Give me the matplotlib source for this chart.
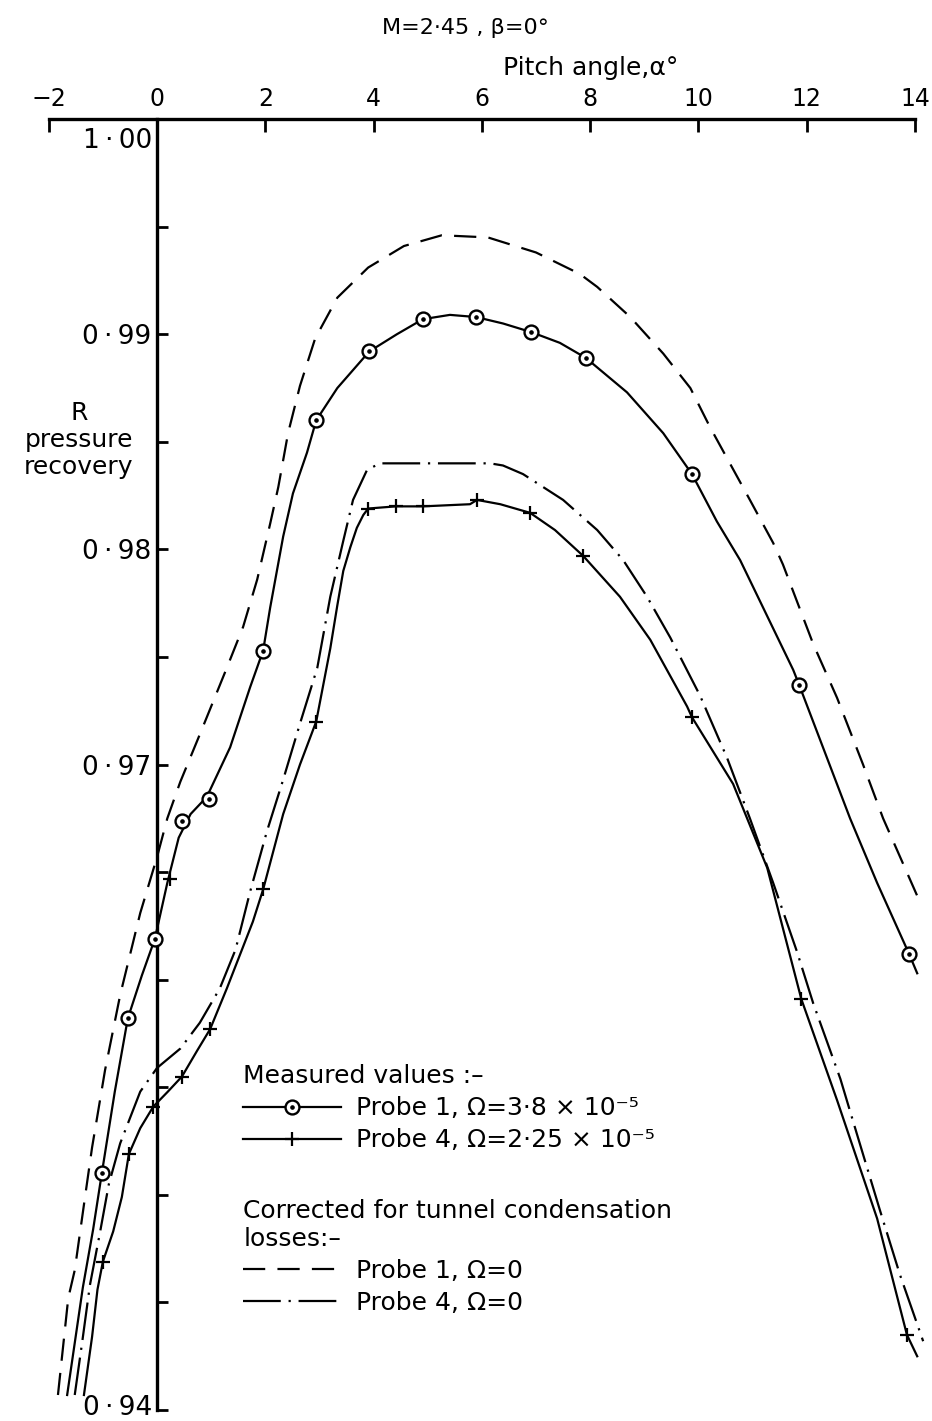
import matplotlib
matplotlib.use('Agg')
import matplotlib.pyplot as plt
from matplotlib.lines import Line2D
from matplotlib.legend_handler import HandlerTuple

plt.rcParams['font.family'] = ['DejaVu Sans']
plt.rcParams['font.size'] = 18

# measured points, probe 1 (circles)
p1_alpha = [-1.02, -0.54, -0.04, 0.46, 0.96, 1.96, 2.94, 3.92, 4.91, 5.89, 6.91, 7.92, 9.88, 11.86, 13.89]
p1_r = [0.9510, 0.9582, 0.9619, 0.9674, 0.9684, 0.9753, 0.9860, 0.9892, 0.9907, 0.9908, 0.9901, 0.9889,
        0.9835, 0.9737, 0.9612]

# measured points, probe 4 (crosses)
p4_alpha = [-1.00, -0.52, -0.07, 0.46, 0.98, 1.96, 2.94, 3.90, 4.41, 4.91, 5.91, 6.89, 7.87, 9.88, 11.90,
            13.85, 0.24]
p4_r = [0.9469, 0.9519, 0.9541, 0.9555, 0.9577, 0.9642, 0.9720, 0.9819, 0.9820, 0.9820, 0.9823, 0.9817,
        0.9797, 0.9722, 0.9591, 0.9435, 0.9647]

# faired curve through probe 1 points
p1_curve_x = [-1.66, -1.37, -1.18, -1.02, -0.78, -0.54, -0.28, -0.04, 0.19, 0.40, 0.62, 0.92, 1.35, 1.72,
              1.96, 2.09, 2.33, 2.51, 2.77, 2.94, 3.33, 3.92, 4.43, 4.91, 5.41, 5.89, 6.39, 6.91, 7.44, 7.92,
              8.68, 9.35, 9.88, 10.34, 10.77, 11.75, 11.86, 12.80, 13.30, 13.89, 14.04]
p1_curve_r = [0.9407, 0.9457, 0.9484, 0.9510, 0.9548, 0.9582, 0.9602, 0.9619, 0.9645, 0.9666, 0.9677,
              0.9685, 0.9708, 0.9736, 0.9753, 0.9773, 0.9806, 0.9826, 0.9845, 0.9860, 0.9875, 0.9892,
              0.9900, 0.9907, 0.9909, 0.9908, 0.9905, 0.9901, 0.9896, 0.9889, 0.9873, 0.9854, 0.9835,
              0.9813, 0.9795, 0.9744, 0.9737, 0.9675, 0.9645, 0.9612, 0.9603]

# faired curve through probe 4 points
p4_curve_x = [-1.35, -1.20, -1.10, -1.00, -0.81, -0.65, -0.52, -0.31, -0.07, 0.20, 0.46, 0.74, 0.98, 1.29,
              1.77, 1.96, 2.33, 2.64, 2.94, 3.20, 3.33, 3.44, 3.57, 3.69, 3.81, 3.90, 4.41, 4.91, 5.78, 5.91,
              6.34, 6.89, 7.35, 7.87, 8.55, 9.11, 9.79, 9.88, 10.64, 11.27, 11.90, 12.56, 13.30, 13.85, 14.04]
p4_curve_r = [0.9407, 0.9434, 0.9456, 0.9469, 0.9483, 0.9499, 0.9519, 0.9531, 0.9541, 0.9548, 0.9555,
              0.9567, 0.9577, 0.9596, 0.9627, 0.9642, 0.9677, 0.9700, 0.9720, 0.9754, 0.9774, 0.9790,
              0.9801, 0.9810, 0.9816, 0.9819, 0.9820, 0.9820, 0.9821, 0.9823, 0.9821, 0.9817, 0.9809,
              0.9797, 0.9778, 0.9758, 0.9727, 0.9722, 0.9691, 0.9652, 0.9591, 0.9544, 0.9489, 0.9435,
              0.9425]

# corrected for tunnel condensation losses, probe 1
p1_corr_x = [-1.83, -1.64, -1.52, -1.33, -1.20, -0.96, -0.68, -0.31, 0.00, 0.19, 0.43, 0.79, 1.29, 1.59,
             1.85, 2.09, 2.24, 2.42, 2.64, 2.92, 3.33, 3.90, 4.56, 5.26, 6.11, 7.00, 7.81, 8.13, 8.74,
             9.35, 9.85, 10.21, 10.58, 10.95, 11.38, 11.56, 12.12, 12.56, 13.04, 13.41, 14.04]
p1_corr_r = [0.9407, 0.9452, 0.9465, 0.9499, 0.9522, 0.9558, 0.9593, 0.9631, 0.9657, 0.9675, 0.9692,
             0.9714, 0.9745, 0.9764, 0.9786, 0.9812, 0.9829, 0.9854, 0.9876, 0.9898, 0.9917, 0.9931,
             0.9941, 0.9946, 0.9945, 0.9938, 0.9928, 0.9922, 0.9908, 0.9891, 0.9875, 0.9857, 0.9840,
             0.9823, 0.9803, 0.9793, 0.9756, 0.9731, 0.9700, 0.9675, 0.9639]

# corrected for tunnel condensation losses, probe 4
p4_corr_x = [-1.52, -1.38, -1.24, -1.05, -0.89, -0.68, -0.31, 0.00, 0.43, 0.79, 1.16, 1.45, 1.72, 2.03,
             2.33, 2.64, 2.96, 3.20, 3.44, 3.62, 3.88, 4.12, 5.04, 6.15, 6.39, 6.76, 7.13, 7.50, 8.13, 8.61,
             9.05, 9.48, 10.03, 10.53, 10.95, 11.38, 11.82, 12.12, 12.62, 12.93, 13.35, 13.72, 14.15]
p4_corr_r = [0.9407, 0.9432, 0.9458, 0.9483, 0.9505, 0.9524, 0.9548, 0.9559, 0.9568, 0.9580, 0.9596,
             0.9614, 0.9641, 0.9669, 0.9693, 0.9719, 0.9745, 0.9778, 0.9804, 0.9823, 0.9837, 0.9840,
             0.9840, 0.9840, 0.9839, 0.9835, 0.9829, 0.9823, 0.9809, 0.9795, 0.9778, 0.9759, 0.9732,
             0.9703, 0.9675, 0.9645, 0.9613, 0.9589, 0.9554, 0.9528, 0.9493, 0.9463, 0.9432]

x_ticks = [-2, 0, 2, 4, 6, 8, 10, 12, 14]
x_labels = ['\u22122', '0', '2', '4', '6', '8', '10', '12', '14']
y_ticks = [0.94, 0.95, 0.96, 0.97, 0.98, 0.99]
y_labels = ['', '', '', '0\u2009\u00b7\u200997', '0\u2009\u00b7\u200998', '0\u2009\u00b7\u200999']
y_minor = [0.945, 0.955, 0.965, 0.975, 0.985, 0.995]

lw = 1.6
dashed = (0, (10, 5.5))
dashdot = (0, (17, 3.5, 1, 3.5))

fig = plt.figure(figsize=(9.32, 14.21), dpi=100)
ax = fig.add_axes([0.0523, 0.0077, 0.9295, 0.9085])
ax.set_xlim(-2, 14)
ax.set_ylim(0.94, 1.00)

ax.plot(p1_curve_x, p1_curve_r, color='k', lw=lw, clip_on=False)
ax.plot(p4_curve_x, p4_curve_r, color='k', lw=lw, clip_on=False)
ax.plot(p1_corr_x, p1_corr_r, color='k', lw=lw, ls=dashed, clip_on=False)
ax.plot(p4_corr_x, p4_corr_r, color='k', lw=lw, ls=dashdot, clip_on=False)
ax.plot(p1_alpha, p1_r, ls='none', marker='o', ms=10, mfc='white', mec='k', mew=1.7, zorder=4, clip_on=False)
ax.plot(p1_alpha, p1_r, ls='none', marker='o', ms=2.3, color='k', zorder=5, clip_on=False)
ax.plot(p4_alpha, p4_r, ls='none', marker='+', ms=10, mew=1.6, color='k', zorder=4, clip_on=False)

# axes: pitch angle along the top, R axis at alpha = 0
ax.spines['right'].set_visible(False)
ax.spines['bottom'].set_visible(False)
ax.spines['left'].set_position(('data', 0))
ax.spines['left'].set_linewidth(2.4)
ax.spines['top'].set_linewidth(2.4)
ax.xaxis.tick_top()
ax.set_xticks(x_ticks, labels=x_labels)
ax.tick_params(axis='x', direction='in', length=9, width=2, pad=6, labelsize=17)
ax.set_yticks(y_ticks, labels=y_labels)
ax.set_yticks(y_minor, minor=True)
ax.tick_params(axis='y', which='both', direction='in', length=8, width=2, pad=4, labelsize=19)
# end labels of the R axis sit just inside the axis ends
ax.text(-0.09, 0.9990, '1\u2009\u00b7\u200900', ha='right', va='center', fontsize=19)
ax.text(-0.09, 0.93976, '0\u2009\u00b7\u200994', ha='right', va='baseline', fontsize=19)

fig.text(465 / 932, 1 - 28 / 1421, 'M=2\u00b745 , \u03b2=0\u00b0', ha='center', va='center', fontsize=16)
fig.text(591 / 932, 1 - 68 / 1421, 'Pitch angle,\u03b1\u00b0', ha='center', va='center', fontsize=18)
fig.text(79 / 932, 1 - 440 / 1421, 'R\npressure\nrecovery', ha='center', va='center',
         multialignment='center', linespacing=1.15)

# legend, built from proxies so the sample strokes match the plotted curves
h_p1 = (Line2D([], [], color='k', lw=lw, marker='o', ms=10, mfc='white', mec='k', mew=1.7),
        Line2D([], [], ls='none', marker='o', ms=2.3, color='k'))
h_p4 = Line2D([], [], color='k', lw=lw, marker='+', ms=10, mew=1.6)
h_c1 = Line2D([], [], color='k', lw=lw, ls=dashed)
h_c4 = Line2D([], [], color='k', lw=lw, ls=dashdot)

leg_kw = dict(loc='upper left', frameon=False, borderpad=0.65, borderaxespad=0, handlelength=3.9,
              handletextpad=0.6, labelspacing=0.32, alignment='left', fontsize=18, title_fontsize=18)
fig.legend([h_p1, h_p4],
           ['Probe 1, \u03a9=3\u00b78 \u00d7 10\u207b\u2075', 'Probe 4, \u03a9=2\u00b725 \u00d7 10\u207b\u2075'],
           title='Measured values :\u2013', bbox_to_anchor=(227 / 932, 1 - 1048 / 1421),
           handler_map={tuple: HandlerTuple(ndivide=1, pad=0)}, **leg_kw)
fig.legend([h_c1, h_c4], ['Probe 1, \u03a9=0', 'Probe 4, \u03a9=0'],
           title='Corrected for tunnel condensation\nlosses:\u2013', bbox_to_anchor=(227 / 932, 1 - 1183 / 1421),
           **leg_kw)

fig.savefig('out.png', dpi=100)
